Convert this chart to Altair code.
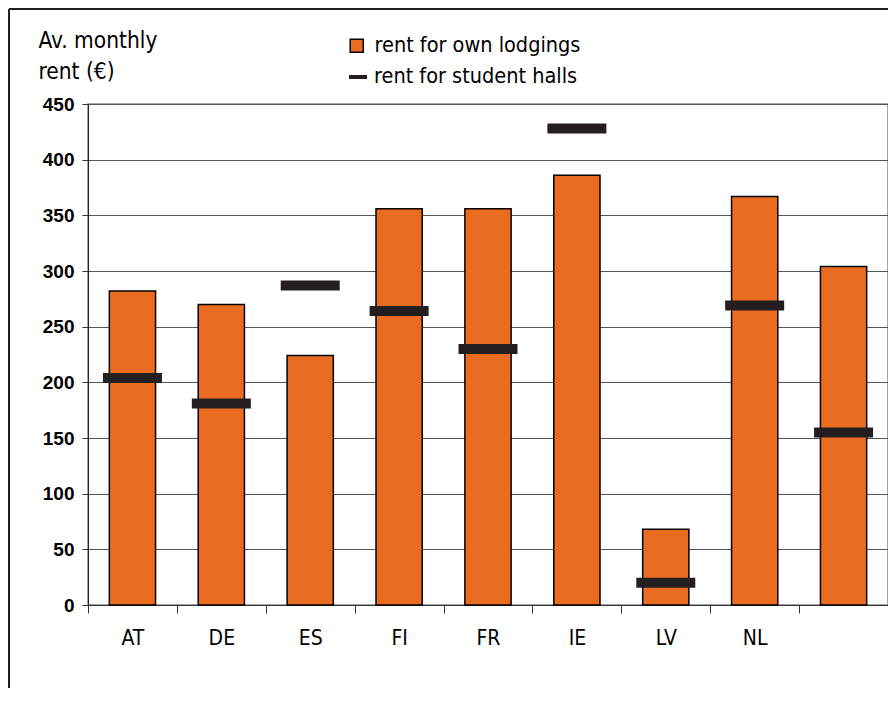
import altair as alt
import pandas as pd

countries = ["AT", "DE", "ES", "FI", "FR", "IE", "LV", "NL", " "]
own_lodgings = [282, 270, 224, 356, 356, 386, 68, 367, 304]
student_halls = [204, 181, 287, 264, 230, 428, 20, 269, 155]
y_ticks = [0, 50, 100, 150, 200, 250, 300, 350, 400, 450]

df = pd.DataFrame({
    "country": countries,
    "own": own_lodgings,
    "halls": student_halls,
    "s_own": "rent for own lodgings",
    "s_halls": "rent for student halls",
})

NARROW = "Liberation Sans Narrow, DejaVu Sans Condensed, Roboto Condensed, Liberation Sans, Arial"
ORANGE = "#EA6C20"
DARK = "#231F20"

x_enc = alt.X(
    "country:N", sort=countries, title=None,
    scale=alt.Scale(paddingInner=0, paddingOuter=0),
    axis=alt.Axis(labelAngle=0, tickBand="extent", labelFont=NARROW, labelFontSize=21,
                  labelColor="black", labelPadding=14, tickSize=8, tickColor="#333",
                  domainColor="#333", grid=False),
)
y_scale = alt.Scale(domain=[0, 450], nice=False)

bars = alt.Chart(df).mark_bar(
    width=alt.RelativeBandSize(0.52), stroke="black", strokeWidth=1.5
).encode(
    x=x_enc,
    y=alt.Y("own:Q", scale=y_scale,
            axis=alt.Axis(values=y_ticks, labelFont="Liberation Sans, Arial", labelFontWeight="bold",
                          labelFontSize=19, labelColor="black", labelPadding=8, tickSize=6,
                          tickColor="#333", domainColor="#222", gridColor="#555", gridWidth=1,
                          title=["Av. monthly", "rent (€)"], titleAngle=0, titleAlign="left",
                          titleBaseline="alphabetic", titleX=-50, titleY=-57,
                          titleFont=NARROW, titleFontSize=22.5, titleFontWeight="normal",
                          titleLineHeight=31, titleColor="black")),
    fill=alt.Fill("s_own:N", scale=alt.Scale(range=[ORANGE]), title=None,
                  legend=alt.Legend(orient="none", legendX=258, legendY=-69, symbolType="square",
                                    symbolSize=170, symbolStrokeColor="black", symbolStrokeWidth=1.5,
                                    symbolFillColor=ORANGE, labelFont=NARROW, labelFontSize=21.5,
                                    labelColor="black", labelOffset=7, labelLimit=400, padding=0)),
)

halls = alt.Chart(df).mark_tick(size=59, thickness=10, opacity=1).encode(
    x=alt.X("country:N", sort=countries),
    y=alt.Y("halls:Q", scale=y_scale),
    color=alt.Color("s_halls:N", scale=alt.Scale(range=[DARK]), title=None,
                    legend=alt.Legend(orient="none", legendX=259, legendY=-38, symbolType="stroke",
                                      symbolSize=324, symbolStrokeWidth=4, symbolStrokeColor=DARK,
                                      labelFont=NARROW, labelFontSize=21.5, labelColor="black",
                                      labelOffset=5, labelLimit=400, padding=0)),
)

frame_left = alt.Chart(df).mark_rule(color="#222", strokeWidth=1.5).encode(
    x=alt.value(-79), y=alt.value(-95), y2=alt.value(584)
)
frame_top = alt.Chart(df).mark_rule(color="#222", strokeWidth=1.5).encode(
    x=alt.value(-79), x2=alt.value(800), y=alt.value(-95)
)

chart = alt.layer(bars, halls, frame_left, frame_top).resolve_scale(
    fill="independent", color="independent"
).properties(
    width=800, height=501,
    autosize=alt.AutoSizeParams(type="none"),
    padding={"left": 80, "top": 96, "right": 0, "bottom": 84},
).configure_view(stroke="#888", strokeWidth=1.5)

chart.save("out.html", embed_options={"renderer": "svg", "actions": False})
